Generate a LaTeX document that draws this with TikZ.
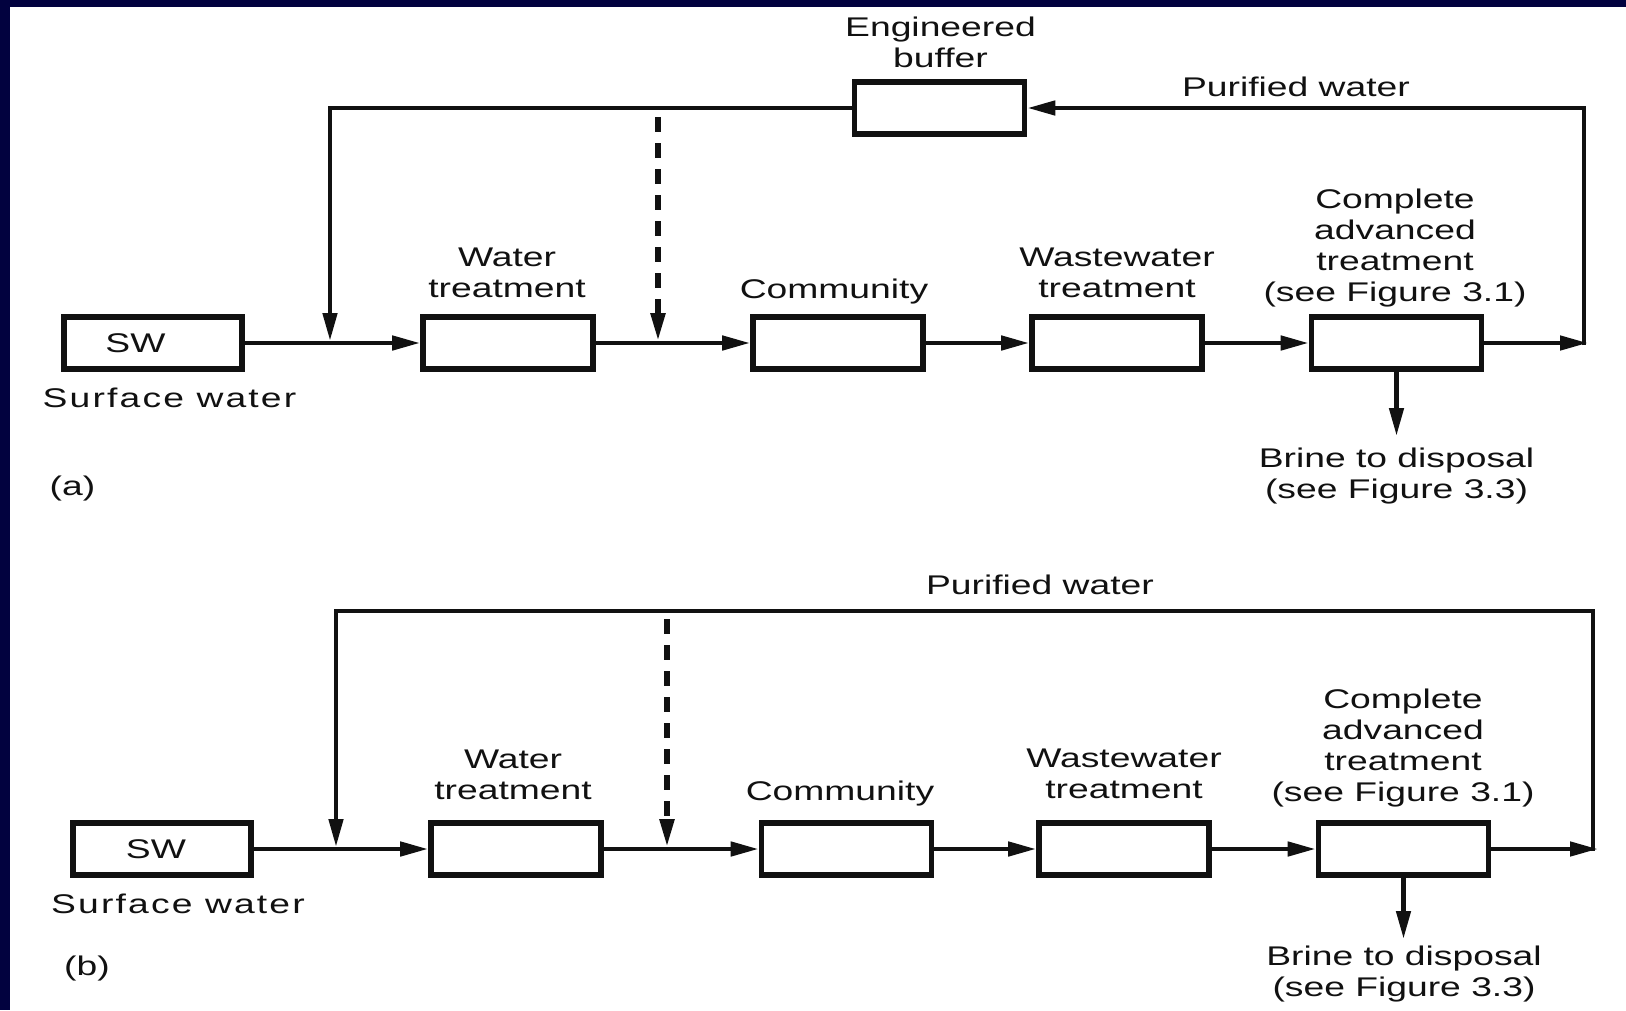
\documentclass[tikz,border=0pt]{standalone}
\usepackage{fontspec}
\setmainfont{Liberation Sans}[FakeStretch=1.38]
\usetikzlibrary{arrows.meta}
\definecolor{navy}{HTML}{02023F}
\definecolor{ink}{HTML}{111111}
\begin{document}
\begin{tikzpicture}[x=1pt,y=-1pt,
  pbox/.style={draw=ink, line width=5.6pt, fill=white, inner sep=0pt, minimum width=170pt, minimum height=52pt},
  swbox/.style={pbox, minimum width=178pt, font=\fontsize{27}{31}\selectfont, text=ink},
  lbl/.style={inner sep=0pt, align=center, anchor=north, text=ink, font=\fontsize{27}{31}\selectfont},
  spaced/.style={lbl, font=\fontsize{27}{31}\selectfont\addfontfeature{LetterSpace=8}},
  conn/.style={draw=ink, line width=4.6pt},
  arr/.style={conn, -{Triangle[length=28pt,width=14pt]}},
  dashconn/.style={arr, line width=5.4pt, dash pattern=on 15pt off 11pt}
]
% background and frame
\fill[white] (0,0) rectangle (1626,1010);
\useasboundingbox (0,0) rectangle (1626,1010);
\fill[navy] (0,0) rectangle (1626,7);
\fill[navy] (0,0) rectangle (10,1010);

% ---------------- panel (a) ----------------
\node[swbox] (swA) at (153,343) {SW\hspace*{35pt}};
\node[pbox] (wtA) at (508,343) {};
\node[pbox] (comA) at (838,343) {};
\node[pbox] (wwA) at (1117,343) {};
\node[pbox] (catA) at (1396.5,343) {};
\node[pbox] (bufA) at (939.5,108) {};

\coordinate (aJ) at (330,341);
\coordinate (aTL) at (330,108);
\coordinate (aDs) at (658,117);
\coordinate (aDe) at (658,341);
\coordinate (aOut) at (1588,343);
\coordinate (aV) at (1584,345);
\coordinate (aBr) at (1396.5,436);

\draw[arr] (swA) -- (wtA);
\draw[arr] (wtA) -- (comA);
\draw[arr] (comA) -- (wwA);
\draw[arr] (wwA) -- (catA);
\draw[arr] (catA) -- (aOut);
\draw[arr] (aV) |- (bufA.east);
\draw[arr] (bufA.west) -- (aTL) -- (aJ);
\draw[dashconn] (aDs) -- (aDe);
\draw[arr] (catA) -- (aBr);

\node[lbl] (lEngA) at (940.5,16.5) {Engineered\\buffer};
\node[lbl] (lPurA) at (1296,77) {Purified water};
\node[lbl] (lWtA) at (507,247.5) {Water\\treatment};
\node[lbl] (lComA) at (834,278.5) {Community};
\node[lbl] (lWwA) at (1117,247.5) {Wastewater\\treatment};
\node[lbl] (lCatA) at (1395,188.5) {Complete\\advanced\\treatment\\(see Figure 3.1)};
\node[lbl] (lBrA) at (1396.5,447.5) {Brine to disposal\\(see Figure 3.3)};
\node[spaced] (lSurfA) at (169.5,387.5) {Surface water};
\node[lbl] (lA) at (72.5,475.5) {(a)};

% ---------------- panel (b) ----------------
\node[swbox] (swB) at (162,849) {SW\hspace*{12pt}};
\node[pbox] (wtB) at (516,849) {};
\node[pbox] (comB) at (846.5,849) {};
\node[pbox] (wwB) at (1124,849) {};
\node[pbox] (catB) at (1403.5,849) {};

\coordinate (bJ) at (336,847);
\coordinate (bTL) at (336,611);
\coordinate (bV) at (1593,851);
\coordinate (bOut) at (1598,849);
\coordinate (bDs) at (667,619);
\coordinate (bDe) at (667,847);
\coordinate (bBr) at (1403.5,939);

\draw[arr] (swB) -- (wtB);
\draw[arr] (wtB) -- (comB);
\draw[arr] (comB) -- (wwB);
\draw[arr] (wwB) -- (catB);
\draw[arr] (catB) -- (bOut);
\draw[arr] (bV) |- (bTL) -- (bJ);
\draw[dashconn] (bDs) -- (bDe);
\draw[arr] (catB) -- (bBr);

\node[lbl] (lPurB) at (1040,574.5) {Purified water};
\node[lbl] (lWtB) at (513,750) {Water\\treatment};
\node[lbl] (lComB) at (840,780.5) {Community};
\node[lbl] (lWwB) at (1124,748.5) {Wastewater\\treatment};
\node[lbl] (lCatB) at (1403,688.5) {Complete\\advanced\\treatment\\(see Figure 3.1)};
\node[lbl] (lBrB) at (1404,945.5) {Brine to disposal\\(see Figure 3.3)};
\node[spaced] (lSurfB) at (178,893.5) {Surface water};
\node[lbl] (lB) at (87,955.5) {(b)};
\end{tikzpicture}
\end{document}
